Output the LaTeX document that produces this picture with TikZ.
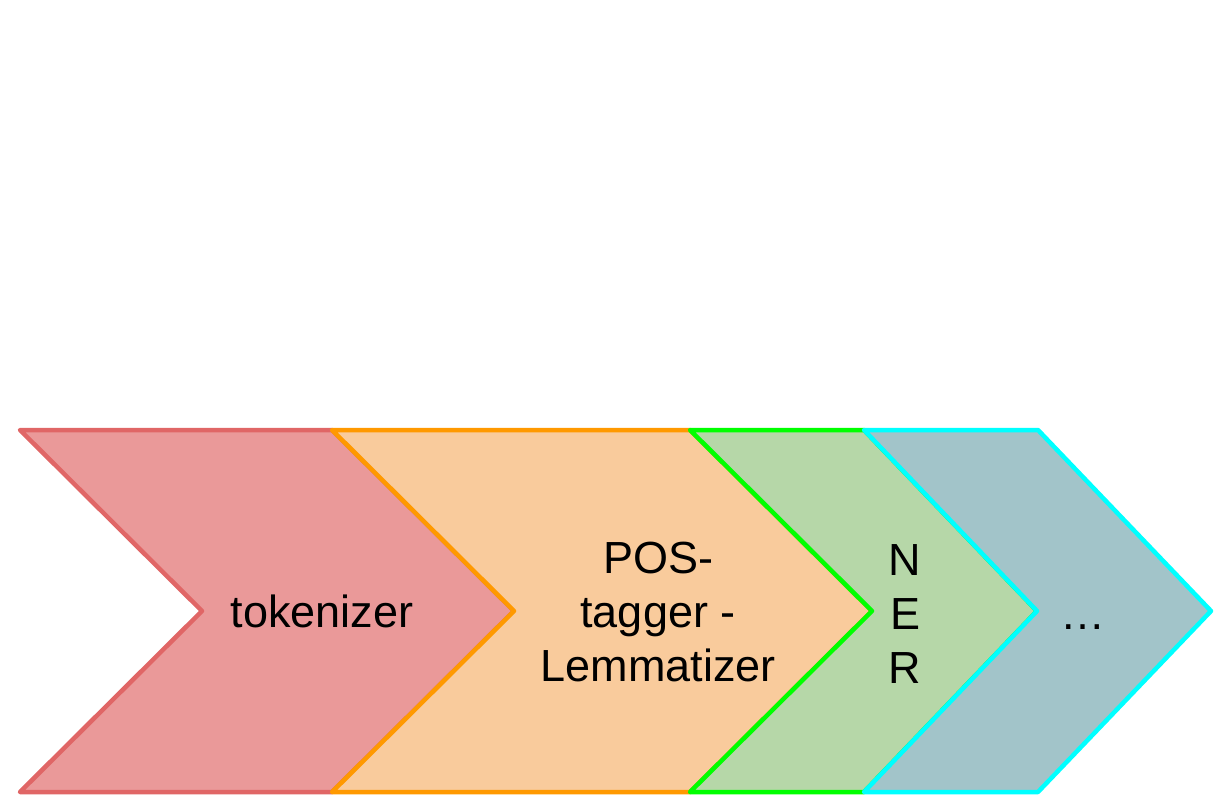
\documentclass[tikz,border=0pt]{standalone}
\usepackage{fontspec}
\setmainfont{Liberation Sans}
\definecolor{redfill}{HTML}{EA9999}
\definecolor{redline}{HTML}{E06666}
\definecolor{orfill}{HTML}{F9CB9C}
\definecolor{orline}{HTML}{FF9900}
\definecolor{grfill}{HTML}{B6D7A8}
\definecolor{grline}{HTML}{00FF00}
\definecolor{cyfill}{HTML}{A2C4C9}
\definecolor{cyline}{HTML}{00FFFF}
\tikzset{
  chev/.style={line width=4.5pt, line join=round},
  lbl/.style={font=\fontsize{45}{54}\selectfont, align=center, inner sep=0pt, text=black}
}
\begin{document}
\begin{tikzpicture}[x=1pt,y=-1pt]
\useasboundingbox (0,0) rectangle (1214,806);
% chevrons
\draw[chev, fill=redfill, draw=redline]
  (20,430) -- (332,430) -- (514,611) -- (332,792) -- (20,792) -- (202,611) -- cycle;
\draw[chev, fill=orfill, draw=orline]
  (332,430) -- (690,430) -- (872,611) -- (690,792) -- (332,792) -- (514,611) -- cycle;
\draw[chev, fill=grfill, draw=grline]
  (690,430) -- (864,430) -- (1037,611) -- (864,792) -- (690,792) -- (872,611) -- cycle;
\draw[chev, fill=cyfill, draw=cyline]
  (864,430) -- (1038,430) -- (1211,611) -- (1038,792) -- (864,792) -- (1037,611) -- cycle;
% labels
\node[lbl] (tok) at (322,611) {tokenizer};
\node[lbl] (pos) at (658,612) {POS-\\tagger -\\Lemmatizer};
\node[lbl] (ner) at (905,614) {N\\E\\R};
\node[lbl, anchor=base] (etc) at (1083,629) {…};
\end{tikzpicture}
\end{document}
